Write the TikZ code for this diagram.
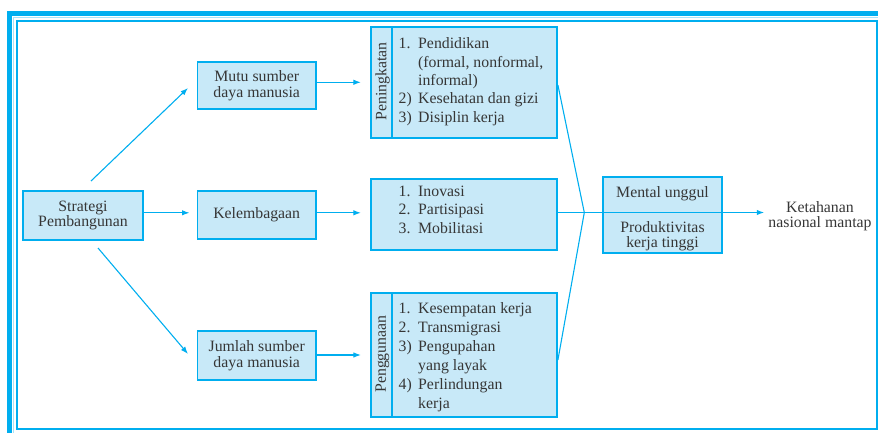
\documentclass[tikz,border=0pt]{standalone}
\usepackage{fontspec}
\setmainfont{Liberation Serif}
\usetikzlibrary{arrows.meta,calc}
\definecolor{frame}{HTML}{00AEEF}
\definecolor{boxfill}{HTML}{C8E9F8}
\definecolor{ink}{HTML}{363636}

\begin{document}
\begin{tikzpicture}[x=1pt,y=-1pt,
  box/.style={draw=frame,fill=boxfill,line width=1.7pt,inner sep=0pt},
  lbl/.style={text=ink,font=\fontsize{15.8}{15.5}\selectfont,align=center,inner sep=0pt},
  lst/.style={text=ink,inner sep=0pt,anchor=base west},
  arr/.style={draw=frame,line width=1.1pt,-{Latex[length=7.5pt,width=5.5pt]}},
  ln/.style={draw=frame,line width=1.1pt},
]
\useasboundingbox (0,0) rectangle (878,433);

% page frame: heavy band on top and left, thin inner rule
\fill[frame] (7,11) rectangle (878,16);
\fill[frame] (7,11) rectangle (12,433);
\draw[frame!35,line width=1pt] (13.6,433) -- (13.6,17.6) -- (878,17.6);
\draw[frame,line width=1.6pt] (16.8,20.8) rectangle (877,428.8);

% left column
\node[box,lbl,minimum width=119.4pt,minimum height=49.3pt] (strat) at (83,215.4) {Strategi\\Pembangunan};
\node[box,lbl,minimum width=118.7pt,minimum height=47.6pt] (mutu) at (256.7,85.5) {Mutu sumber\\daya manusia};
\node[box,lbl,minimum width=118.7pt,minimum height=48.6pt] (lemb) at (256.7,215) {Kelembagaan};
\node[box,lbl,minimum width=118.7pt,minimum height=49pt] (juml) at (256.7,355.5) {Jumlah sumber\\daya manusia};

% list boxes
\node[box,minimum width=186.3pt,minimum height=111pt] (pen) at (463.9,82.8) {};
\node[box,minimum width=186.3pt,minimum height=71pt] (mid) at (463.9,214.5) {};
\node[box,minimum width=186.3pt,minimum height=123.4pt] (pg) at (463.9,355) {};
\draw[frame,line width=1.5pt] ([xshift=22pt]pen.north west) -- ([xshift=22pt]pen.south west);
\draw[frame,line width=1.5pt] ([xshift=22pt]pg.north west) -- ([xshift=22pt]pg.south west);
\node[lbl,rotate=90] (penl) at (382.5,81.5) {Peningkatan};
\node[lbl,rotate=90] (pgl) at (382.5,354) {Penggunaan};

\node[lst,font=\fontsize{15.8}{18.3}\selectfont] (penlist) at (398.5,49)
  {\begin{tabular}[t]{@{}p{19.5pt}@{}l@{}}1.&Pendidikan\\&(formal, nonformal,\\&informal)\\2)&Kesehatan dan gizi\\3)&Disiplin kerja\end{tabular}};
\node[lst,font=\fontsize{15.8}{18.5}\selectfont] (midlist) at (398.5,196)
  {\begin{tabular}[t]{@{}p{19.5pt}@{}l@{}}1.&Inovasi\\2.&Partisipasi\\3.&Mobilitasi\end{tabular}};
\node[lst,font=\fontsize{15.8}{19}\selectfont] (pglist) at (398.5,313)
  {\begin{tabular}[t]{@{}p{19.5pt}@{}l@{}}1.&Kesempatan kerja\\2.&Transmigrasi\\3)&Pengupahan\\&yang layak\\4)&Perlindungan\\&kerja\end{tabular}};

% outcome box
\node[box,minimum width=119pt,minimum height=76pt] (ment) at (662.5,215) {};
\node[lbl,anchor=base] (mu) at (662.5,197) {Mental unggul};
\node[lbl,anchor=base,font=\fontsize{15.8}{14.5}\selectfont] (prod) at (662.5,247) {Produktivitas\\kerja tinggi};
\node[lbl] (ket) at (820,216) {Ketahanan\\nasional mantap};

% connectors
\coordinate (up0) at (91,181);
\coordinate (up1) at (188,88);
\coordinate (dn0) at (98,248);
\coordinate (dn1) at (188,354);
\coordinate (join) at (584.3,212.5);
\draw[arr] (up0) -- (up1);
\draw[arr] (dn0) -- (dn1);
\draw[arr,shorten >=7pt] (strat.east |- 0,212.8) -- (lemb.west |- 0,212.8);
\draw[arr,shorten >=9pt] (mutu.east |- 0,82.3) -- (pen.west |- 0,82.3);
\draw[arr,shorten >=9pt] (lemb.east |- 0,212.8) -- (mid.west |- 0,212.8);
\draw[arr,shorten >=9pt] (juml.east |- 0,355) -- (pg.west |- 0,355);
\draw[ln] (pen.east |- 0,85) -- (join) -- (pg.east |- 0,360);
\draw[arr,shorten >=4pt] (mid.east |- 0,212.5) -- (ket.west |- 0,212.5);
\end{tikzpicture}
\end{document}
